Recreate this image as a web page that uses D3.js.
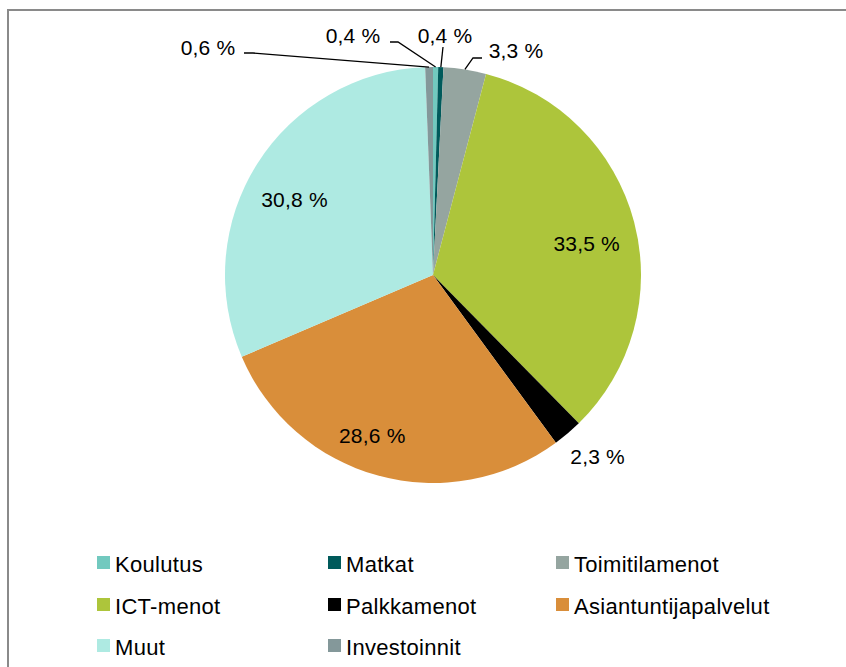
<!DOCTYPE html>
<html><head><meta charset="utf-8">
<script src="https://cdn.jsdelivr.net/npm/d3@7"></script>
<style>
html,body{margin:0;padding:0;background:#fff;overflow:hidden}
svg text{font-family:"Liberation Sans",Arial,sans-serif;fill:#000}
</style></head>
<body><svg id="c" width="846" height="667"></svg>
<script>
// ---- data ----
const categories = ["Koulutus","Matkat","Toimitilamenot","ICT-menot","Palkkamenot","Asiantuntijapalvelut","Muut","Investoinnit"];
const values = [0.4, 0.4, 3.3, 33.5, 2.3, 28.6, 30.8, 0.6];
const labels = ["0,4 %","0,4 %","3,3 %","33,5 %","2,3 %","28,6 %","30,8 %","0,6 %"];
const colors = ["#72c9bf","#005a5b","#95a5a0","#adc53b","#000000","#d98e3a","#aeeae2","#84989a"];

// ---- layout ----
const cx = 433, cy = 275, R = 208;
const svg = d3.select("#c");

svg.append("rect").attr("x", 8).attr("y", 10).attr("width", 900).attr("height", 700)
  .attr("fill", "none").attr("stroke", "#8a8a8a").attr("stroke-width", 2);

const pie = d3.pie().sort(null).value(d => d)(values);
const arc = d3.arc().innerRadius(0).outerRadius(R);
const g = svg.append("g").attr("transform", `translate(${cx},${cy})`);

g.selectAll("path").data(pie).join("path")
  .attr("d", arc).attr("fill", (d, i) => colors[i]);

const labelLayout = [
  {mode: "lead", tx: -80, ty: -240, elbow: [[-43, -233], [-35, -233]]},
  {mode: "lead", tx: 12, ty: -240, elbow: [[10, -228]]},
  {mode: "lead", tx: 83, ty: -225, elbow: [[49, -217], [40, -217]]},
  {mode: "rad", r: 158, dx: 1, dy: 9},
  {mode: "rad", r: 245, dx: 6, dy: -5},
  {mode: "rad", r: 162, dx: -18, dy: 4},
  {mode: "rad", r: 158, dx: -5, dy: 9},
  {mode: "lead", tx: -225, ty: -228, elbow: [[-189, -222], [-180, -222]]}
];

const fs = 21;
pie.forEach((d, i) => {
  const L = labelLayout[i];
  const mid = (d.startAngle + d.endAngle) / 2;
  const px = r => Math.sin(mid) * r, py = r => -Math.cos(mid) * r;
  let x, y;
  if (L.mode === "rad") { x = px(L.r) + L.dx; y = py(L.r) + L.dy; }
  else {
    x = L.tx; y = L.ty;
    const pts = L.elbow.concat([[px(R), py(R)]]);
    g.append("path").attr("d", d3.line()(pts))
      .attr("fill", "none").attr("stroke", "#000").attr("stroke-width", 1.3);
  }
  g.append("text").attr("x", x).attr("y", y).attr("text-anchor", "middle")
    .attr("dominant-baseline", "central").attr("font-size", fs)
    .style("letter-spacing", "0.2px").text(labels[i]);
});

// legend
const colX = [97, 328, 556];
const rowY = [563, 605, 646];
const leg = svg.append("g");
categories.forEach((c, i) => {
  const x = colX[i % 3], y = rowY[Math.floor(i / 3)];
  leg.append("rect").attr("x", x).attr("y", y - 7).attr("width", 13).attr("height", 13).attr("fill", colors[i]);
  leg.append("text").attr("x", x + 18).attr("y", y + 1).attr("dominant-baseline", "central")
    .attr("font-size", 22).style("letter-spacing", "0.3px").text(c);
});
</script></body></html>
